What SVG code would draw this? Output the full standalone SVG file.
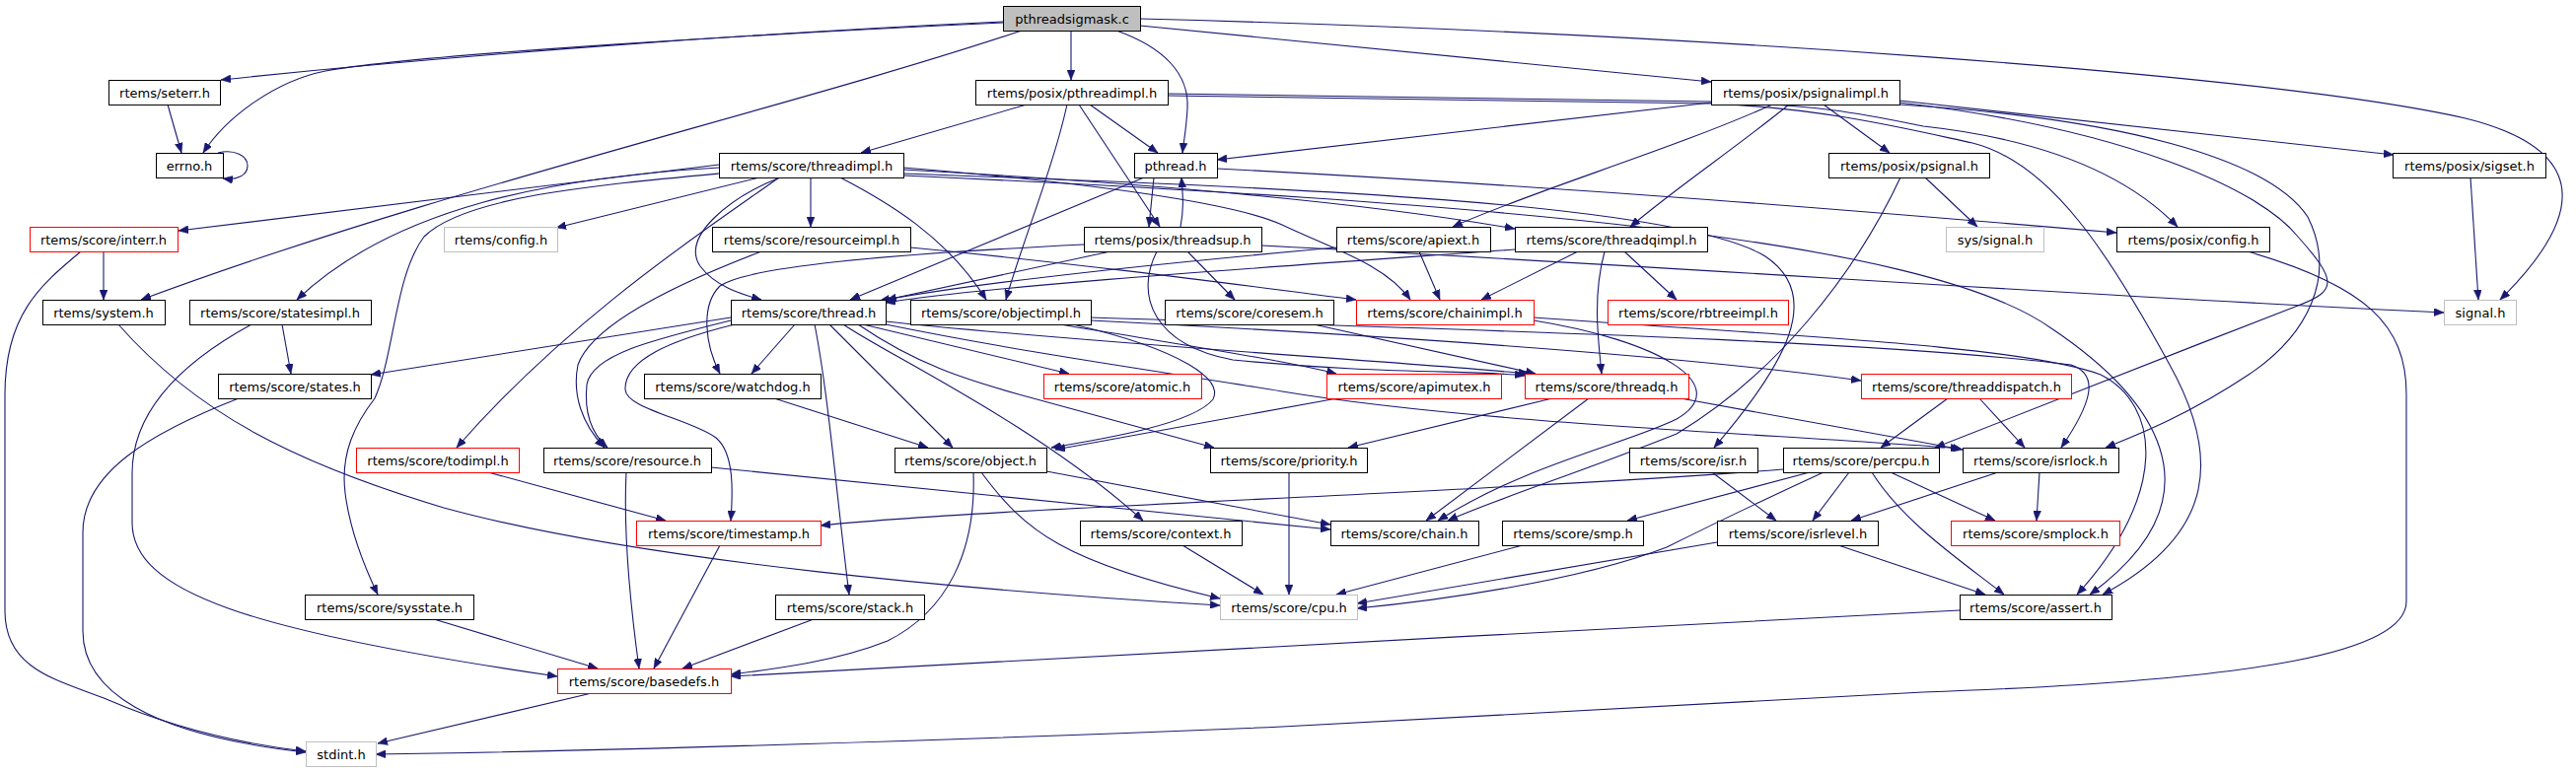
<svg xmlns="http://www.w3.org/2000/svg" width="2612" height="784" viewBox="0 0 2612 784">
<style>
.e path{fill:none;stroke:#191970;stroke-width:1.1;marker-end:url(#a)}
.n rect{fill:#fff;stroke:#000;stroke-width:1}
.n.r rect{stroke:#f00}
.n.g rect{stroke:#bfbfbf}
.n.root rect{fill:#bfbfbf}
.n text{font-family:"DejaVu Sans",sans-serif;font-size:13px;text-anchor:middle;fill:#000}
</style>
<defs>
<marker id="a" markerWidth="10" markerHeight="8" refX="10" refY="4" orient="auto" markerUnits="userSpaceOnUse"><path d="M0,0 L10,4 L0,8 z" fill="#191970" stroke="#191970" stroke-width="0.5"/></marker>
</defs>
<rect width="2612" height="784" fill="#fff"/>
<g id="edges" class="e">
<path d="M1017,22 C800,32 500,52 224,81"/>
<path d="M1017,23 C800,33 420,55 330,72 C280,82 230,118 206,155"/>
<path d="M1036,31 C800,110 450,190 143,304"/>
<path d="M1086,31 L1086,81"/>
<path d="M1132,31 C1180,48 1206,75 1204,110 C1203,130 1200,145 1199,155"/>
<path d="M1156,26 L1735,83"/>
<path d="M1156,19 C1700,33 2300,75 2500,120 C2640,155 2610,230 2535,304"/>
<path d="M170,106 L184,155"/>
<path d="M221,155 C238,151 251,158 251,168 C251,178 240,183 226,181"/>
<path d="M1041,106 L873,155"/>
<path d="M1082,106 C1068,170 1035,250 1020,304"/>
<path d="M1094,106 L1176,230"/>
<path d="M1105,106 L1174,155"/>
<path d="M1184,95 L1735,103 C1850,106 1900,118 1950,128 C2060,140 2150,170 2208,230"/>
<path d="M1184,97 L1735,105 C1850,110 1930,130 2000,145 C2080,165 2140,260 2200,370 C2250,460 2250,540 2132,603"/>
<path d="M1735,104 L1234,162"/>
<path d="M1797,106 C1700,150 1550,195 1473,230"/>
<path d="M1814,106 C1760,150 1700,190 1653,230"/>
<path d="M1849,106 L1916,155"/>
<path d="M1926,102 L2427,157"/>
<path d="M1926,104 C2150,130 2290,190 2330,240 C2370,285 2370,295 2330,310 C2200,360 2050,420 1962,454"/>
<path d="M1926,106 C2150,120 2300,160 2340,220 C2370,280 2340,340 2280,380 C2220,420 2170,440 2135,454"/>
<path d="M729,167 L181,234"/>
<path d="M770,180 L564,231"/>
<path d="M729,170 C560,180 400,210 301,304"/>
<path d="M729,176 C600,188 470,200 430,240 C400,280 400,360 380,404 C360,430 345,460 350,500 C355,540 372,580 383,603"/>
<path d="M790,180 C720,230 580,320 463,454"/>
<path d="M822,180 L822,230"/>
<path d="M791,180 C740,200 690,240 710,270 C725,290 750,298 772,304"/>
<path d="M852,180 C900,205 960,240 1000,304"/>
<path d="M916,172 C1200,188 1400,208 1536,232"/>
<path d="M916,170 C1100,185 1250,205 1300,228 C1350,252 1405,268 1430,304"/>
<path d="M916,176 C1300,190 1700,205 1790,260 C1850,300 1810,370 1738,454"/>
<path d="M916,178 C1500,205 1950,240 2080,333 C2180,400 2260,500 2119,603"/>
<path d="M1234,171 C1600,190 1900,215 2146,236"/>
<path d="M1170,180 L1165,230"/>
<path d="M1197,230 C1201,210 1199,195 1198,180"/>
<path d="M1160,180 L862,304"/>
<path d="M1952,180 L2005,230"/>
<path d="M1927,180 C1880,280 1800,380 1700,440 C1600,480 1520,505 1468,528"/>
<path d="M2505,180 L2513,304"/>
<path d="M105,255 L105,304"/>
<path d="M82,255 C40,290 5,320 5,400 L5,620 C5,680 60,690 110,710 C180,740 250,755 310,762"/>
<path d="M772,255 C680,290 600,330 586,370 C580,400 590,430 613,454"/>
<path d="M923,251 C1100,268 1250,288 1375,304"/>
<path d="M1126,255 L899,304"/>
<path d="M1099,248 C900,258 760,270 730,290 C710,310 715,350 730,379"/>
<path d="M1204,255 L1252,304"/>
<path d="M1173,255 C1150,300 1170,350 1250,365 C1400,380 1500,375 1546,381"/>
<path d="M1279,249 C1700,270 2100,300 2478,317"/>
<path d="M1355,251 C1200,265 1000,285 892,305"/>
<path d="M1439,255 L1460,304"/>
<path d="M1536,253 C1300,270 1000,290 898,307"/>
<path d="M1600,255 L1502,304"/>
<path d="M1647,255 L1700,304"/>
<path d="M1627,255 C1615,300 1620,340 1624,379"/>
<path d="M2279,255 C2400,290 2440,330 2440,400 L2440,610 C2440,660 2300,690 1950,702 L1300,737 C1000,750 600,762 381,765"/>
<path d="M120,329 C200,420 300,470 450,515 C650,570 1000,600 1237,614"/>
<path d="M286,329 L295,379"/>
<path d="M255,329 C180,370 134,420 134,480 L134,530 C134,600 250,640 565,686"/>
<path d="M741,322 L376,380"/>
<path d="M806,329 L762,379"/>
<path d="M741,325 C660,345 600,360 595,390 C592,420 600,440 616,454"/>
<path d="M745,329 C680,345 633,365 634,395 C635,415 700,425 726,444 C745,460 743,500 741,528"/>
<path d="M841,329 L966,454"/>
<path d="M826,329 C840,400 848,500 861,603"/>
<path d="M855,329 C900,360 1050,430 1159,528"/>
<path d="M870,329 C930,370 980,385 1033,400 L1231,454"/>
<path d="M875,329 L1084,379"/>
<path d="M898,326 C1100,348 1400,365 1550,379"/>
<path d="M898,329 C1050,360 1200,380 1300,397 C1500,430 1800,440 1988,455"/>
<path d="M1088,329 C1200,355 1240,385 1230,405 C1210,430 1120,445 1066,454"/>
<path d="M1075,329 C1200,350 1300,365 1355,379"/>
<path d="M1106,325 C1400,340 1700,360 1887,386"/>
<path d="M1106,322 C1500,335 1900,345 2100,370 C2130,380 2120,410 2090,454"/>
<path d="M1332,329 L1557,379"/>
<path d="M1555,325 C1680,345 1760,390 1700,425 C1650,450 1550,470 1458,528"/>
<path d="M1555,322 C1800,340 2050,350 2130,380 C2190,410 2200,500 2106,603"/>
<path d="M242,404 C150,440 84,480 84,540 L84,640 C84,700 150,745 310,763"/>
<path d="M785,404 L941,454"/>
<path d="M1356,404 L1070,456"/>
<path d="M1611,404 L1446,528"/>
<path d="M1574,404 L1367,454"/>
<path d="M1704,404 L1990,456"/>
<path d="M1975,404 L1907,454"/>
<path d="M2007,404 L2053,454"/>
<path d="M495,479 L675,528"/>
<path d="M635,479 C632,540 640,620 648,678"/>
<path d="M721,474 L1349,537"/>
<path d="M987,479 C990,560 960,620 900,650 C850,670 790,678 741,684"/>
<path d="M995,479 C1040,540 1080,570 1237,607"/>
<path d="M1061,478 L1349,532"/>
<path d="M1307,479 L1307,603"/>
<path d="M1736,479 L1801,528"/>
<path d="M1875,479 L1838,528"/>
<path d="M1835,479 L1650,528"/>
<path d="M1849,479 C1760,520 1720,540 1690,555 C1600,590 1450,610 1376,617"/>
<path d="M1808,476 C1500,500 1000,515 832,533"/>
<path d="M1898,479 C1930,530 1990,570 2032,603"/>
<path d="M1917,479 L2023,528"/>
<path d="M2026,479 L1877,528"/>
<path d="M2068,479 L2065,528"/>
<path d="M730,553 L663,678"/>
<path d="M1199,553 L1281,603"/>
<path d="M1544,553 L1355,603"/>
<path d="M1741,550 L1376,612"/>
<path d="M1864,553 L2013,603"/>
<path d="M440,628 L606,678"/>
<path d="M825,628 L692,678"/>
<path d="M1987,619 C1600,640 1000,670 741,686"/>
<path d="M600,703 L383,754"/>
</g>
<g id="n0" class="n root"><rect x="1017.5" y="6.5" width="139" height="25"/><text x="1087" y="23.5">pthreadsigmask.c</text></g>
<g id="n1" class="n"><rect x="110.5" y="81.5" width="113" height="25"/><text x="167" y="98.5">rtems/seterr.h</text></g>
<g id="n2" class="n"><rect x="158.5" y="155.5" width="68" height="25"/><text x="192" y="172.5">errno.h</text></g>
<g id="n3" class="n"><rect x="989.5" y="81.5" width="195" height="25"/><text x="1087" y="98.5">rtems/posix/pthreadimpl.h</text></g>
<g id="n4" class="n"><rect x="1735.5" y="81.5" width="191" height="25"/><text x="1831" y="98.5">rtems/posix/psignalimpl.h</text></g>
<g id="n5" class="n"><rect x="729.5" y="155.5" width="187" height="25"/><text x="823" y="172.5">rtems/score/threadimpl.h</text></g>
<g id="n6" class="n"><rect x="1150.5" y="155.5" width="84" height="25"/><text x="1192" y="172.5">pthread.h</text></g>
<g id="n7" class="n"><rect x="1854.5" y="155.5" width="163" height="25"/><text x="1936" y="172.5">rtems/posix/psignal.h</text></g>
<g id="n8" class="n"><rect x="2426.5" y="155.5" width="155" height="25"/><text x="2504" y="172.5">rtems/posix/sigset.h</text></g>
<g id="n9" class="n r"><rect x="30.5" y="230.5" width="150" height="25"/><text x="105" y="247.5">rtems/score/interr.h</text></g>
<g id="n10" class="n g"><rect x="450.5" y="230.5" width="115" height="25"/><text x="508" y="247.5">rtems/config.h</text></g>
<g id="n11" class="n"><rect x="722.5" y="230.5" width="201" height="25"/><text x="823" y="247.5">rtems/score/resourceimpl.h</text></g>
<g id="n12" class="n"><rect x="1099.5" y="230.5" width="180" height="25"/><text x="1189" y="247.5">rtems/posix/threadsup.h</text></g>
<g id="n13" class="n"><rect x="1355.5" y="230.5" width="156" height="25"/><text x="1433" y="247.5">rtems/score/apiext.h</text></g>
<g id="n14" class="n"><rect x="1536.5" y="230.5" width="195" height="25"/><text x="1634" y="247.5">rtems/score/threadqimpl.h</text></g>
<g id="n15" class="n g"><rect x="1973.5" y="230.5" width="99" height="25"/><text x="2023" y="247.5">sys/signal.h</text></g>
<g id="n16" class="n"><rect x="2146.5" y="230.5" width="155" height="25"/><text x="2224" y="247.5">rtems/posix/config.h</text></g>
<g id="n17" class="n"><rect x="43.5" y="304.5" width="124" height="25"/><text x="105" y="321.5">rtems/system.h</text></g>
<g id="n18" class="n"><rect x="192.5" y="304.5" width="184" height="25"/><text x="284" y="321.5">rtems/score/statesimpl.h</text></g>
<g id="n19" class="n"><rect x="741.5" y="304.5" width="157" height="25"/><text x="820" y="321.5">rtems/score/thread.h</text></g>
<g id="n20" class="n"><rect x="923.5" y="304.5" width="183" height="25"/><text x="1015" y="321.5">rtems/score/objectimpl.h</text></g>
<g id="n21" class="n"><rect x="1181.5" y="304.5" width="171" height="25"/><text x="1267" y="321.5">rtems/score/coresem.h</text></g>
<g id="n22" class="n r"><rect x="1375.5" y="304.5" width="180" height="25"/><text x="1465" y="321.5">rtems/score/chainimpl.h</text></g>
<g id="n23" class="n r"><rect x="1630.5" y="304.5" width="183" height="25"/><text x="1722" y="321.5">rtems/score/rbtreeimpl.h</text></g>
<g id="n24" class="n g"><rect x="2478.5" y="304.5" width="73" height="25"/><text x="2515" y="321.5">signal.h</text></g>
<g id="n25" class="n"><rect x="221.5" y="379.5" width="155" height="25"/><text x="299" y="396.5">rtems/score/states.h</text></g>
<g id="n26" class="n"><rect x="653.5" y="379.5" width="179" height="25"/><text x="743" y="396.5">rtems/score/watchdog.h</text></g>
<g id="n27" class="n r"><rect x="1058.5" y="379.5" width="160" height="25"/><text x="1138" y="396.5">rtems/score/atomic.h</text></g>
<g id="n28" class="n r"><rect x="1345.5" y="379.5" width="177" height="25"/><text x="1434" y="396.5">rtems/score/apimutex.h</text></g>
<g id="n29" class="n r"><rect x="1546.5" y="379.5" width="166" height="25"/><text x="1629" y="396.5">rtems/score/threadq.h</text></g>
<g id="n30" class="n r"><rect x="1887.5" y="379.5" width="213" height="25"/><text x="1994" y="396.5">rtems/score/threaddispatch.h</text></g>
<g id="n31" class="n r"><rect x="361.5" y="454.5" width="165" height="25"/><text x="444" y="471.5">rtems/score/todimpl.h</text></g>
<g id="n32" class="n"><rect x="551.5" y="454.5" width="170" height="25"/><text x="636" y="471.5">rtems/score/resource.h</text></g>
<g id="n33" class="n"><rect x="907.5" y="454.5" width="154" height="25"/><text x="984" y="471.5">rtems/score/object.h</text></g>
<g id="n34" class="n"><rect x="1227.5" y="454.5" width="159" height="25"/><text x="1307" y="471.5">rtems/score/priority.h</text></g>
<g id="n35" class="n"><rect x="1652.5" y="454.5" width="130" height="25"/><text x="1717" y="471.5">rtems/score/isr.h</text></g>
<g id="n36" class="n"><rect x="1808.5" y="454.5" width="158" height="25"/><text x="1887" y="471.5">rtems/score/percpu.h</text></g>
<g id="n37" class="n"><rect x="1990.5" y="454.5" width="158" height="25"/><text x="2069" y="471.5">rtems/score/isrlock.h</text></g>
<g id="n38" class="n r"><rect x="645.5" y="528.5" width="187" height="25"/><text x="739" y="545.5">rtems/score/timestamp.h</text></g>
<g id="n39" class="n"><rect x="1095.5" y="528.5" width="164" height="25"/><text x="1177" y="545.5">rtems/score/context.h</text></g>
<g id="n40" class="n"><rect x="1349.5" y="528.5" width="150" height="25"/><text x="1424" y="545.5">rtems/score/chain.h</text></g>
<g id="n41" class="n"><rect x="1523.5" y="528.5" width="143" height="25"/><text x="1595" y="545.5">rtems/score/smp.h</text></g>
<g id="n42" class="n"><rect x="1741.5" y="528.5" width="163" height="25"/><text x="1823" y="545.5">rtems/score/isrlevel.h</text></g>
<g id="n43" class="n r"><rect x="1978.5" y="528.5" width="171" height="25"/><text x="2064" y="545.5">rtems/score/smplock.h</text></g>
<g id="n44" class="n"><rect x="309.5" y="603.5" width="171" height="25"/><text x="395" y="620.5">rtems/score/sysstate.h</text></g>
<g id="n45" class="n"><rect x="786.5" y="603.5" width="151" height="25"/><text x="862" y="620.5">rtems/score/stack.h</text></g>
<g id="n46" class="n g"><rect x="1237.5" y="603.5" width="139" height="25"/><text x="1307" y="620.5">rtems/score/cpu.h</text></g>
<g id="n47" class="n"><rect x="1987.5" y="603.5" width="154" height="25"/><text x="2064" y="620.5">rtems/score/assert.h</text></g>
<g id="n48" class="n r"><rect x="565.5" y="678.5" width="176" height="25"/><text x="653" y="695.5">rtems/score/basedefs.h</text></g>
<g id="n49" class="n g"><rect x="310.5" y="752.5" width="71" height="25"/><text x="346" y="769.5">stdint.h</text></g>
</svg>
